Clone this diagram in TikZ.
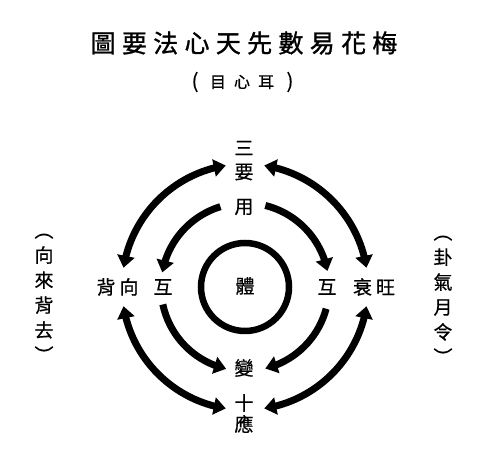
\documentclass[tikz,border=0pt]{standalone}
\usepackage{fontspec}
\newfontfamily\cjk[FakeBold=0.6]{Noto Sans CJK TC}
\newfontfamily\cjktitle[FakeBold=1.2]{Noto Sans CJK TC}
\usetikzlibrary{arrows.meta,bending}
\tikzset{
  bigtip/.tip={Triangle[length=12pt,width=17pt]},
  lbl/.style={font=\cjk\fontsize{19}{19}\selectfont, inner sep=0pt},
  side/.style={font=\cjk\fontsize{19}{25}\selectfont, inner sep=0pt, align=center},
  titlefont/.style={font=\cjktitle\fontsize{25}{25}\selectfont, inner sep=0pt},
  subfont/.style={font=\cjk\fontsize{16}{16}\selectfont, inner sep=0pt},
  parenfont/.style={font=\cjk\fontsize{20}{20}\selectfont, inner sep=0pt},
  thick arc/.style={line width=7pt},
  ring/.style={line width=6.5pt},
}
\begin{document}
\begin{tikzpicture}[x=1pt,y=1pt]
\useasboundingbox (0,0) rectangle (500,470);
\fill[white] (0,0) rectangle (500,470);
% centre of the figure
\coordinate (o) at (245,183);
% title
\node[titlefont] (title) at (244,427) {圖\kern6.3pt 要\kern6.3pt 法\kern6.3pt 心\kern6.3pt 天\kern6.3pt 先\kern6.3pt 數\kern6.3pt 易\kern6.3pt 花\kern6.3pt 梅};
\node[subfont] (sub) at (242,388) {目\kern8pt 心\kern8pt 耳};
\node[parenfont] (lp) at (195,388) {(};
\node[parenfont] (rp) at (290,388) {)};
% labels
\node[lbl] (san) at (244,322) {三};
\node[lbl] (yao) at (244,298) {要};
\node[lbl] (yong) at (244,263) {用};
\node[lbl] (beixiang) at (117.5,183) {背\kern4pt 向};
\node[lbl] (hul) at (163,183) {互};
\node[lbl] (ti) at (245,184) {體};
\node[lbl] (hur) at (327,183) {互};
\node[lbl] (shuaiwang) at (374,183) {衰\kern4pt 旺};
\node[lbl] (bian) at (244,102) {變};
\node[lbl] (shi) at (244,67) {十};
\node[lbl] (ying) at (244,46) {應};
% side columns
\node[side] (left) at (44,172) {︵\\向\\來\\背\\去\\︶};
\node[side] (right) at (443,170) {︵\\卦\\氣\\月\\令\\︶};
% inner ring
\draw[ring] (o) circle[radius=44];
% outer double arrows
\draw[thick arc, bigtip-bigtip] ([shift={(99:123)}]o) arc[start angle=99, end angle=171, radius=123];
\draw[thick arc, bigtip-bigtip] ([shift={(81:123)}]o) arc[start angle=81, end angle=9, radius=123];
\draw[thick arc, bigtip-bigtip] ([shift={(189:123)}]o) arc[start angle=189, end angle=261, radius=123];
\draw[thick arc, bigtip-bigtip] ([shift={(351:123)}]o) arc[start angle=351, end angle=279, radius=123];
% inner single arrows
\draw[thick arc, -bigtip] ([shift={(107:84)}]o) arc[start angle=107, end angle=170, radius=84];
\draw[thick arc, -bigtip] ([shift={(76:84)}]o) arc[start angle=76, end angle=11, radius=84];
\draw[thick arc, -bigtip] ([shift={(192:84)}]o) arc[start angle=192, end angle=257, radius=84];
\draw[thick arc, -bigtip] ([shift={(345:84)}]o) arc[start angle=345, end angle=284, radius=84];
\end{tikzpicture}
\end{document}
